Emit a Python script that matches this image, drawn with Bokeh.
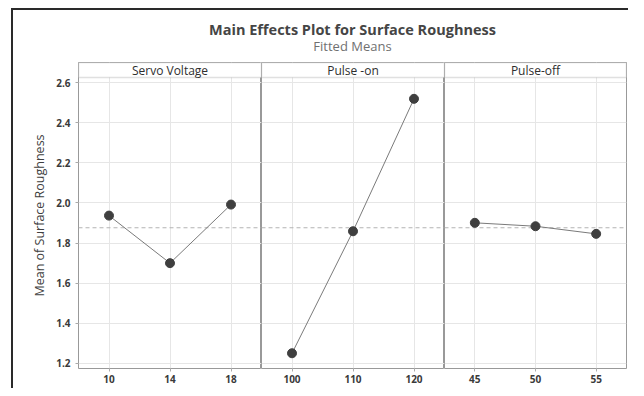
import numpy as np
from bokeh.plotting import figure
from bokeh.layouts import row, column
from bokeh.models import Range1d, FixedTicker, Span, BoxAnnotation, Label, Grid, PrintfTickFormatter
from bokeh.embed import file_html
from bokeh.resources import INLINE

# ---- data ----
factor_names = ["Servo Voltage", "Pulse -on", "Pulse-off"]
servo_levels = [10, 14, 18]
servo_means = [1.937, 1.700, 1.992]
pon_levels = [100, 110, 120]
pon_means = [1.251, 1.859, 2.519]
poff_levels = [45, 50, 55]
poff_means = [1.901, 1.884, 1.846]
y_ticks = [1.2, 1.4, 1.6, 1.8, 2.0, 2.2, 2.4, 2.6]

title_text = "Main Effects Plot for Surface Roughness"
subtitle_text = "Fitted Means"
y_label = "Mean of Surface Roughness"

grand_mean = float(np.mean(servo_means + pon_means + poff_means))

FONT = "Open Sans"
Y_LO, Y_HI, STRIP_BOTTOM = 1.175, 2.70, 2.625
FRAME_H = 306
yr = Range1d(Y_LO, Y_HI)

panels = [(factor_names[0], servo_levels, servo_means),
          (factor_names[1], pon_levels, pon_means),
          (factor_names[2], poff_levels, poff_means)]

figs = []
for i, (name, lv, mv) in enumerate(panels):
    step = lv[1] - lv[0]
    xr = Range1d(lv[0] - step / 2, lv[-1] + step / 2)
    left = 65 if i == 0 else 0
    right = 2 if i == 2 else 0
    fw = 182 if i == 2 else 183
    p = figure(width=left + fw + right, height=FRAME_H + 20, x_range=xr, y_range=yr,
               min_border_left=left, min_border_right=right, min_border_top=0,
               min_border_bottom=20, toolbar_location=None, output_backend="svg",
               y_axis_location="left" if i == 0 else None)
    p.outline_line_color = "#999999"
    p.outline_line_width = 1
    p.background_fill_color = "white"
    p.border_fill_color = "white"

    xa = p.xaxis[0]
    xa.ticker = FixedTicker(ticks=lv)
    xa.axis_line_color = None
    xa.major_tick_line_color = "#aaaaaa"
    xa.major_tick_out = 3
    xa.major_tick_in = 0
    xa.minor_tick_line_color = None
    xa.major_label_text_font = FONT
    xa.major_label_text_font_size = "10px"
    xa.major_label_text_font_style = "bold"
    xa.major_label_text_color = "#3a3a3a"
    xa.major_label_standoff = 3

    if i == 0:
        ya = p.yaxis[0]
        ya.ticker = FixedTicker(ticks=y_ticks)
        ya.formatter = PrintfTickFormatter(format="%.1f")
        ya.axis_line_color = None
        ya.major_tick_line_color = "#aaaaaa"
        ya.major_tick_out = 3
        ya.major_tick_in = 0
        ya.minor_tick_line_color = None
        ya.major_label_text_font = FONT
        ya.major_label_text_font_size = "10px"
        ya.major_label_text_font_style = "bold"
        ya.major_label_text_color = "#3a3a3a"
        ya.major_label_standoff = 5
        ya.axis_label = y_label
        ya.axis_label_text_font = FONT
        ya.axis_label_text_font_size = "12.5px"
        ya.axis_label_text_font_style = "normal"
        ya.axis_label_text_color = "#404040"
        ya.axis_label_standoff = 5
    else:
        if len(p.ygrid) == 0:
            p.add_layout(Grid(dimension=1, ticker=FixedTicker(ticks=y_ticks)), "center")
        else:
            for g in p.ygrid:
                g.ticker = FixedTicker(ticks=y_ticks)

    for g in p.xgrid + p.ygrid:
        g.grid_line_color = "#e6e6e6"
        g.grid_line_width = 1

    mean_span = Span(location=grand_mean, dimension="width", line_color="#b4b4b4",
                     line_dash="4 3", line_width=1.2, level="underlay")
    p.add_layout(mean_span)

    p.line(lv, mv, line_color="#7a7a7a", line_width=1)
    p.scatter(lv, mv, size=9, color="#3f3f3f")

    strip = BoxAnnotation(bottom=STRIP_BOTTOM, fill_color="white", fill_alpha=1.0,
                          line_color="#999999", line_width=1.5)
    p.add_layout(strip)
    p.add_layout(Label(x=(xr.start + xr.end) / 2, y=(STRIP_BOTTOM + Y_HI) / 2, text=name,
                       text_align="center", text_baseline="middle",
                       text_font=FONT, text_font_size="12px", text_color="#2e2e2e"))
    figs.append(p)

header = figure(width=65 + 548 + 2, height=52, x_range=Range1d(0, 1), y_range=Range1d(0, 52),
                min_border_left=65, min_border_right=2, min_border_top=0, min_border_bottom=0,
                toolbar_location=None, output_backend="svg",
                x_axis_type=None, y_axis_type=None)
header.outline_line_color = None
header.add_layout(Label(x=0.5, y=33, text=title_text, text_align="center", text_baseline="middle",
                        text_font=FONT, text_font_size="14.5px", text_font_style="bold",
                        text_color="#454545"))
header.add_layout(Label(x=0.5, y=17, text=subtitle_text, text_align="center", text_baseline="middle",
                        text_font=FONT, text_font_size="13px", text_color="#707070"))

layout = column(header, row(*figs),
                styles={"border-left": "2px solid #2a2a2a", "border-top": "2px solid #2a2a2a",
                        "margin-left": "11px", "margin-top": "8px"})

open("out.html", "w").write(file_html(layout, INLINE))
